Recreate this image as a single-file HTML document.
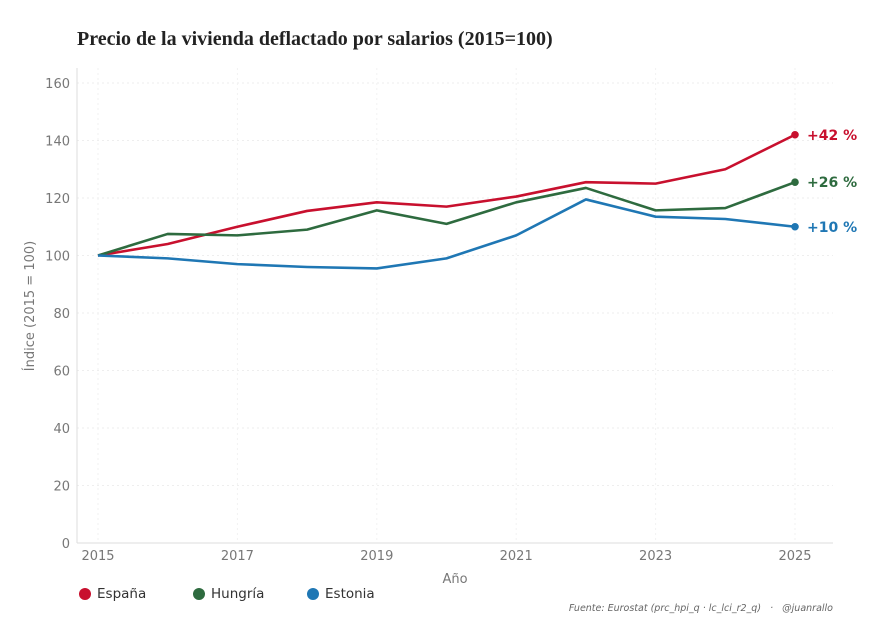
<!DOCTYPE html>
<html><head><meta charset="utf-8"><style>
body{margin:0;background:#fff;width:874px;height:633px;overflow:hidden;font-family:"DejaVu Sans","Liberation Sans",sans-serif}
svg text{font-family:"DejaVu Sans","Liberation Sans",sans-serif}
</style></head><body>
<svg width="874" height="633">
<text x="77" y="45" style="font-family:'Liberation Serif',serif" font-weight="bold" font-size="20" fill="#222">Precio de la vivienda deflactado por salarios (2015=100)</text>
<g id="grid"></g>
<g id="axes"></g>
<g id="series"></g>
<text x="455" y="583" text-anchor="middle" font-size="13" fill="#777">Año</text>
<text transform="translate(34,306) rotate(-90)" text-anchor="middle" font-size="13" fill="#777">Índice (2015 = 100)</text>
<g>
<g><circle cx="85" cy="594" r="6" fill="#c8102e"/><text x="97" y="598" font-size="13.5" fill="#333">España</text></g>
<g><circle cx="199" cy="594" r="6" fill="#2e6b3f"/><text x="211" y="598" font-size="13.5" fill="#333">Hungría</text></g>
<g><circle cx="313" cy="594" r="6" fill="#1f77b4"/><text x="325" y="598" font-size="13.5" fill="#333">Estonia</text></g>
</g>
<text x="833" y="611" text-anchor="end" font-size="9.5" font-style="italic" fill="#666" style="white-space:pre">Fuente: Eurostat (prc_hpi_q · lc_lci_r2_q)   ·   @juanrallo</text>
</svg>
<script>
const years=[2015,2016,2017,2018,2019,2020,2021,2022,2023,2024,2025];
const espana=[100,104,110,115.5,118.5,117,120.5,125.5,125,130,142];
const hungria=[100,107.5,107,109,115.7,111,118.5,123.5,115.7,116.5,125.5];
const estonia=[100,99,97,96,95.5,99,107,119.5,113.5,112.7,110];
const yTicks=[0,20,40,60,80,100,120,140,160];
const xTicks=[2015,2017,2019,2021,2023,2025];
const labels=["+42 %","+26 %","+10 %"];
const NS="http://www.w3.org/2000/svg";
const X=v=>98+(v-2015)*69.7;
const Y=v=>543-v*2.875;
function mk(t,a,p){const e=document.createElementNS(NS,t);for(const k in a)e.setAttribute(k,a[k]);p.appendChild(e);return e;}
const grid=document.getElementById('grid'),axes=document.getElementById('axes'),ser=document.getElementById('series');
yTicks.forEach(v=>{
 const l=mk('line',{x1:77,x2:833,y1:Y(v),y2:Y(v),stroke:'#eeeeee','stroke-dasharray':'2,3'},grid);
 
 
 const t=mk('text',{x:70,y:Y(v)+5,'text-anchor':'end','font-size':13,fill:'#777'},axes);t.textContent=v;
 
 
});
xTicks.forEach(v=>{
 const l=mk('line',{x1:X(v),x2:X(v),y1:68,y2:543,stroke:'#f2f2f2','stroke-dasharray':'2,3'},grid);
 
 
 const t=mk('text',{x:X(v),y:560,'text-anchor':'middle','font-size':13,fill:'#777'},axes);t.textContent=v;
 
 
});
mk('line',{x1:77,x2:77,y1:68,y2:543,stroke:'#ddd'},axes);
mk('line',{x1:77,x2:833,y1:543,y2:543,stroke:'#ddd'},axes);
const all=[[espana,'#c8102e','espana'],[hungria,'#2e6b3f','hungria'],[estonia,'#1f77b4','estonia']];
all.forEach(([d,c,n],i)=>{
 const p=mk('polyline',{points:d.map((v,j)=>X(years[j])+','+Y(v)).join(' '),fill:'none',stroke:c,'stroke-width':2.6,'stroke-linejoin':'round'},ser);
 
 
 const last=d[d.length-1];
 const ci=mk('circle',{cx:X(years[years.length-1]),cy:Y(last),r:3.8,fill:c},ser);
 
 
 const t=mk('text',{x:807,y:Y(last)+5,'font-size':14,'font-weight':'bold',fill:c},ser);t.textContent=labels[i];
 
 
});
</script>
</body></html>
